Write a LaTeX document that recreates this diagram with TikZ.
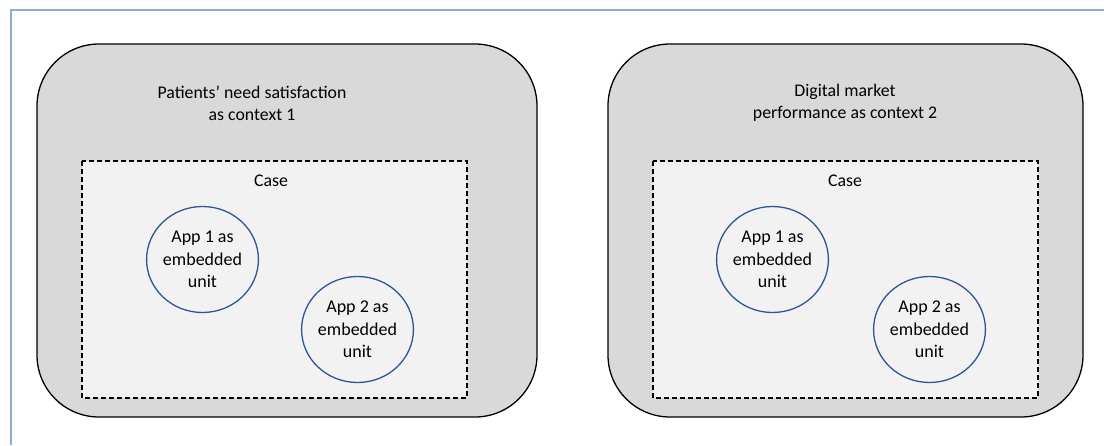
\documentclass[tikz,border=0pt]{standalone}
\usepackage{fontspec}
\setmainfont{Carlito}
\usetikzlibrary{shapes.geometric}
\definecolor{frameblue}{HTML}{8FAADC}
\definecolor{outergray}{HTML}{D9D9D9}
\definecolor{innergray}{HTML}{F2F2F2}
\definecolor{unitblue}{HTML}{2F5597}
\tikzset{
  context/.style={draw=black, fill=outergray, line width=1.3pt, rounded corners=62pt},
  casebox/.style={draw=black, fill=innergray, line width=1.3pt, dash pattern=on 5pt off 3pt},
  label/.style={font=\fontsize{17.8pt}{22pt}\selectfont, align=center, inner sep=0pt},
  unit/.style={ellipse, draw=unitblue, fill=innergray, line width=1.3pt,
    minimum width=111pt, minimum height=106pt, inner sep=0pt,
    font=\fontsize{18pt}{22.5pt}\selectfont, align=center}
}
\begin{document}
\begin{tikzpicture}[x=1pt, y=-1pt]
\useasboundingbox (0,0) rectangle (1104,445);
% page frame
\draw[frameblue, line width=1.3pt] (11,445) -- (11,10) -- (1104,10);

% context 1
\draw[context] (37,44) rectangle (537,417);
\draw[casebox] (82,161) rectangle (467,398);
\node[label] (ctx1) at (252,103) {Patients’ need satisfaction\\as context 1};
\node[label] (case1) at (271,181) {Case};
\node[unit] (app11) at (202.5,259.5) {App 1 as\\embedded\\unit};
\node[unit] (app12) at (357.5,329.5) {App 2 as\\embedded\\unit};

% context 2
\draw[context] (608,44) rectangle (1083,417);
\draw[casebox] (653,161) rectangle (1038,398);
\node[label] (ctx2) at (845,103) {Digital market\\performance as context 2};
\node[label] (case2) at (845,181) {Case};
\node[unit] (app21) at (772.5,259.5) {App 1 as\\embedded\\unit};
\node[unit] (app22) at (929.5,329.5) {App 2 as\\embedded\\unit};
\end{tikzpicture}
\end{document}
